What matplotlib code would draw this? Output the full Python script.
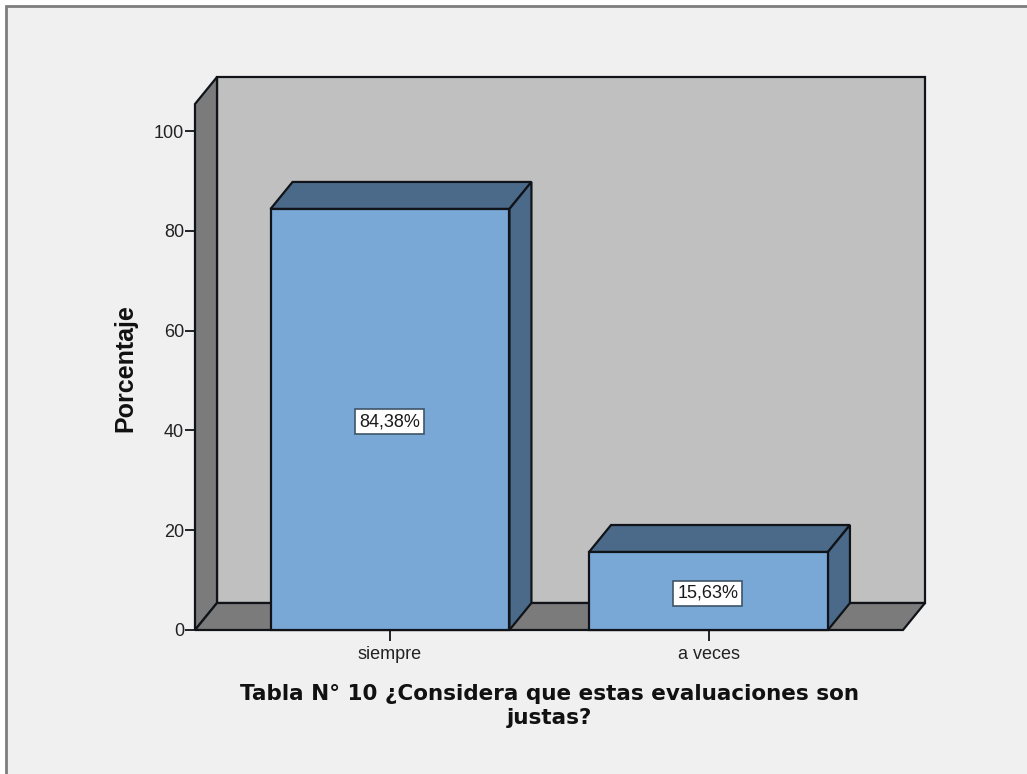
import matplotlib
matplotlib.use("Agg")
import matplotlib.pyplot as plt
from matplotlib.patches import Polygon, Rectangle

categories = ["siempre", "a veces"]
percentages = [84.38, 15.63]
value_labels = ["84,38%", "15,63%"]
y_ticks = [0, 20, 40, 60, 80, 100]
y_label = "Porcentaje"
x_label = "Tabla N° 10 ¿Considera que estas evaluaciones son\njustas?"

W, H = 1027, 774
BG = "#f0f0f0"
FRONT = "#7aa8d6"
SHADE = "#4b6a8a"
WALL = "#c0c0c0"
SIDE = "#7b7b7b"
EDGE = "#101418"

fig = plt.figure(figsize=(W / 100, H / 100), dpi=100, facecolor="white")

# Panel behind the chart, with its grey frame along the top and left
panel = fig.add_axes([0, 0, 1, 1])
panel.set_xlim(0, W)
panel.set_ylim(H, 0)
panel.axis("off")
panel.add_patch(Rectangle((6, 6), W, H, facecolor=BG, edgecolor="#7d7d7d", linewidth=2))

# Axes cover the front plane of the 3D box
left, right, top, bottom = 195, 903, 104, 630
ax = fig.add_axes([left / W, 1 - bottom / H, (right - left) / W, (bottom - top) / H])
ax.patch.set_visible(False)
for spine in ax.spines.values():
    spine.set_visible(False)

spacing = 318.5
unit = 4.99
ax.set_xlim((left - 390) / spacing, (right - 390) / spacing)
ax.set_ylim(0, (bottom - top) / unit)

dx = 22 / spacing
dy = 27 / unit
x0, x1 = ax.get_xlim()
y0, y1 = ax.get_ylim()
lw = 1.6


def face(points, color, z=1):
    ax.add_patch(Polygon(points, closed=True, facecolor=color, edgecolor=EDGE,
                         linewidth=lw, joinstyle="miter", clip_on=False, zorder=z))


# Box walls
face([(x0 + dx, y0 + dy), (x1 + dx, y0 + dy), (x1 + dx, y1 + dy), (x0 + dx, y1 + dy)], WALL)
face([(x0, y0), (x0 + dx, y0 + dy), (x0 + dx, y1 + dy), (x0, y1)], SIDE)
face([(x0, y0), (x1, y0), (x1 + dx, y0 + dy), (x0 + dx, y0 + dy)], SIDE)

# Bars with their top and side faces
half = 0.375
for i, value in enumerate(percentages):
    a, b = i - half, i + half
    face([(a, value), (b, value), (b + dx, value + dy), (a + dx, value + dy)], SHADE, 2)
    face([(b, 0), (b + dx, dy), (b + dx, value + dy), (b, value)], SHADE, 2)
    ax.bar(i, value, width=2 * half, color=FRONT, edgecolor=EDGE, linewidth=lw,
           zorder=3, clip_on=False)
    ax.annotate(value_labels[i], (i, value / 2), xytext=(-0.5, -1.5),
                textcoords="offset points", ha="center", va="center",
                fontsize=13, family="Liberation Sans", color="#1a1a1a", zorder=4,
                bbox=dict(boxstyle="square,pad=0.22", facecolor="white",
                          edgecolor="#3f5468", linewidth=1.2))

ax.set_xticks(range(len(categories)))
ax.set_xticklabels(categories, fontsize=13, family="Liberation Sans", color="#222222")
ax.set_yticks(y_ticks)
ax.set_yticklabels([str(t) for t in y_ticks], fontsize=13, family="Liberation Sans",
                   color="#222222")
ax.tick_params(axis="y", length=7, width=1.3, color=EDGE, pad=1)
ax.tick_params(axis="x", length=8, width=1.3, color=EDGE, pad=3.5)

fig.text(125 / W, 1 - 368 / H, y_label, rotation=90, ha="center", va="center",
         fontsize=18, fontweight="bold", family="Liberation Sans", color="#111111")
fig.text(549 / W, 1 - 706 / H, x_label, ha="center", va="center", linespacing=1.22,
         fontsize=15.5, fontweight="bold", family="DejaVu Sans", color="#111111")

fig.savefig("out.png", dpi=100, facecolor="white")
